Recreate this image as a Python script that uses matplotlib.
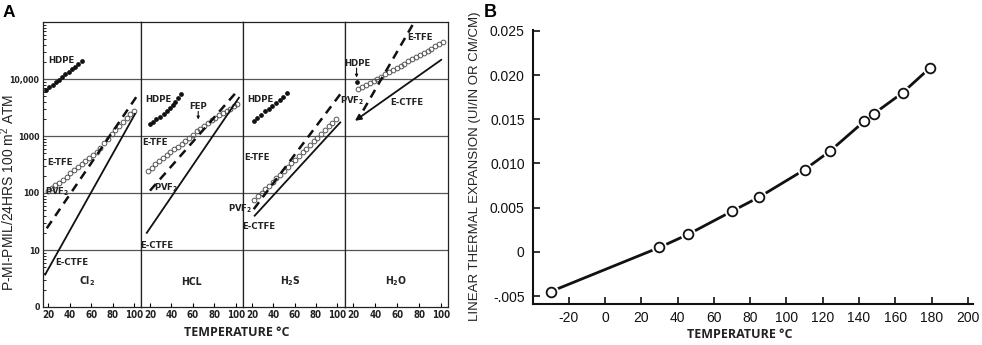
import os
import matplotlib
matplotlib.use("Agg")
import matplotlib.pyplot as plt
from matplotlib import font_manager
from matplotlib.font_manager import FontProperties
from matplotlib.ticker import LogLocator, NullFormatter, FixedLocator

# ---------------- data : panel A (permeability, log scale) ----------------
gas_names = ["Cl$_2$", "HCL", "H$_2$S", "H$_2$O"]
a_xticks = [20, 40, 60, 80, 100]
a_yticks = [1, 10, 100, 1000, 10000]
a_yticklabels = ["0", "10", "100", "1000", "10,000"]

cl2_hdpe_x = [18, 21, 24, 27, 30, 33, 36, 39, 42, 45, 48, 51]
cl2_hdpe_y = [6500, 7200, 8000, 8900, 9800, 10800, 12000, 13300, 14800, 16500, 18500, 20500]
cl2_etfe_x = [19.5, 23, 26.5, 30, 33.5, 37, 40.5, 44, 47.5, 51, 54.5, 58, 61.5, 65,
              68.5, 72, 75.5, 79, 82.5, 86, 89.5, 93, 96.5, 99.5]
cl2_etfe_y = [110, 122, 138, 152, 170, 190, 228, 255, 285, 320, 360, 405, 460, 530,
              620, 740, 900, 1080, 1280, 1500, 1750, 2050, 2450, 2750]
cl2_pvf2_x = [18.5, 102]
cl2_pvf2_y = [24, 4800]
cl2_ectfe_x = [17, 101]
cl2_ectfe_y = [3.7, 2450]

hcl_hdpe_x = [20, 23, 26, 29.5, 33, 36, 38.5, 41, 43.5, 46, 48.5]
hcl_hdpe_y = [1650, 1750, 1950, 2150, 2400, 2750, 3100, 3500, 4000, 4700, 5500]
hcl_etfe_x = [18, 21.5, 25, 28.5, 32, 35.5, 39, 42.5, 46, 49.5, 53, 56.5, 60, 63.5,
              67, 70.5, 74, 77.5, 81, 84.5, 88, 91.5, 95, 98.5, 101.5]
hcl_etfe_y = [245, 280, 320, 365, 415, 465, 520, 580, 650, 730, 820, 930, 1060, 1200,
              1350, 1520, 1700, 1900, 2100, 2300, 2500, 2750, 3000, 3300, 3600]
hcl_pvf2_x = [20, 102]
hcl_pvf2_y = [110, 6300]
hcl_ectfe_x = [17, 103]
hcl_ectfe_y = [20, 4700]

h2s_hdpe_x = [21.6, 25, 28.5, 32, 35.5, 39, 42.5, 46, 49.5, 53]
h2s_hdpe_y = [1850, 2100, 2380, 2700, 3000, 3350, 3750, 4200, 4900, 5700]
h2s_etfe_x = [22, 25.5, 29, 32.5, 36, 39.5, 43, 46.5, 50, 53.5, 57, 60.5, 64, 67.5,
              71, 74.5, 78, 81.5, 85, 88.5, 92, 95.5, 99]
h2s_etfe_y = [75, 87, 100, 116, 135, 156, 180, 210, 245, 285, 330, 385, 445, 515,
              600, 700, 810, 940, 1090, 1270, 1470, 1700, 1980]
h2s_pvf2_x = [21.6, 103]
h2s_pvf2_y = [52, 5400]
h2s_ectfe_x = [22.5, 103]
h2s_ectfe_y = [40, 1730]

h2o_hdpe_x = [23]
h2o_hdpe_y = [8900]
h2o_etfe_x = [24.5, 28, 31.5, 35, 38.5, 42, 45.5, 49, 52.5, 56, 59.5, 63, 66.5, 70,
              73.5, 77, 80.5, 84, 87.5, 91, 94.5, 98, 101.5]
h2o_etfe_y = [6550, 7150, 7800, 8500, 9300, 10100, 11000, 12000, 13100, 14300, 15600,
              17000, 18600, 20300, 22100, 24100, 26300, 28700, 31300, 34200, 37300,
              40700, 44400]
h2o_pvf2_x = [29, 74.3]
h2o_pvf2_y = [2800, 92000]
h2o_ectfe_x = [100, 21.5]      # drawn as an arrow from first to second point
h2o_ectfe_y = [21800, 1850]

# ---------------- data : panel B (linear thermal expansion) ----------------
b_temp = [-30, 30, 46, 70, 85, 110, 124, 143, 148, 164, 179]
b_expansion = [-0.0045, 0.0005, 0.0020, 0.0046, 0.0062, 0.0093, 0.0114, 0.0148,
               0.0156, 0.0180, 0.0208]
b_xticks = [-20, 0, 20, 40, 60, 80, 100, 120, 140, 160, 180, 200]
b_yticks = [-0.005, 0, 0.005, 0.010, 0.015, 0.020, 0.025]
b_yticklabels = ["-.005", "0", "0.005", "0.010", "0.015", "0.020", "0.025"]

# ---------------- fonts ----------------
plt.rcParams["font.family"] = ["Liberation Sans", "DejaVu Sans"]
plt.rcParams["mathtext.default"] = "regular"

_bad = ("italic", "oblique", "semi", "extra", "light", "thin", "medium", "black", "demi")


def find_narrow(bold):
    keys = ["liberationsansnarrow", "dejavusanscondensed", "robotocondensed",
            "notosanscondensed", "opensanscondensed", "latocondensed"]
    for key in keys:
        for f in font_manager.fontManager.ttflist:
            base = os.path.basename(f.fname).lower().replace("-", "").replace("_", "")
            if key in base and not any(b in base for b in _bad):
                if ("bold" in base) == bold:
                    return f.fname
    return None


def narrow_fp(size, bold=True):
    path = find_narrow(bold)
    if path:
        return FontProperties(fname=path, size=size)
    return FontProperties(family="Liberation Sans", weight="bold" if bold else "normal",
                          size=size)


W, H = 982, 345
fig = plt.figure(figsize=(W / 100, H / 100), dpi=100)


def fx(px):
    return px / W


def fy(py):
    return 1 - py / H


# ---------------- panel A ----------------
edges = [43, 141, 243, 345, 448]
xlims = [(15, 106.5), (11.6, 106.8), (11.5, 107.5), (12.5, 106)]
top_px, bot_px = 22, 307
series = [
    (cl2_hdpe_x, cl2_hdpe_y, cl2_etfe_x, cl2_etfe_y, cl2_pvf2_x, cl2_pvf2_y, cl2_ectfe_x, cl2_ectfe_y),
    (hcl_hdpe_x, hcl_hdpe_y, hcl_etfe_x, hcl_etfe_y, hcl_pvf2_x, hcl_pvf2_y, hcl_ectfe_x, hcl_ectfe_y),
    (h2s_hdpe_x, h2s_hdpe_y, h2s_etfe_x, h2s_etfe_y, h2s_pvf2_x, h2s_pvf2_y, h2s_ectfe_x, h2s_ectfe_y),
    (h2o_hdpe_x, h2o_hdpe_y, h2o_etfe_x, h2o_etfe_y, h2o_pvf2_x, h2o_pvf2_y, h2o_ectfe_x, h2o_ectfe_y),
]
lab_fp = narrow_fp(6.8)
gas_fp = narrow_fp(7.5)
xt_fp = narrow_fp(7.0)
yt_fp = narrow_fp(6.3)
ink = "#222222"
lab_kw = dict(fontproperties=lab_fp, color=ink, ha="center", va="center")
# label positions (x, y) for HDPE, E-TFE, PVF2, E-CTFE, gas
label_pos = [
    [(32.5, 21000), (31, 345), (28.4, 105), (42, 6.0), (56, 2.8)],
    [(27.7, 4300), (24.7, 760), (35.6, 122), (26.8, 12), (58.9, 2.8)],
    [(28, 4300), (24.7, 420), (9, 52), (26.3, 26), (56, 2.9)],
    [(23.6, 18600), (81, 53000), (18.6, 4200), (68.3, 3900), (58.6, 2.9)],
]

for i in range(4):
    l, r = edges[i], edges[i + 1]
    ax = fig.add_axes([fx(l), fy(bot_px), (r - l) / W, (bot_px - top_px) / H])
    ax.set_yscale("log")
    ax.set_ylim(1, 1e5)
    ax.set_xlim(*xlims[i])
    for g in [10, 100, 1000, 10000]:
        ax.axhline(g, color="#555555", lw=0.9, zorder=0)
    for s in ax.spines.values():
        s.set_linewidth(0.9)
        s.set_color(ink)
    ax.set_xticks(a_xticks)
    ax.set_xticklabels([str(t) for t in a_xticks], fontproperties=xt_fp, color=ink)
    ax.tick_params(axis="x", direction="in", length=3, width=0.8, pad=2)
    if i == 0:
        ax.yaxis.set_major_locator(FixedLocator(a_yticks))
        ax.set_yticklabels(a_yticklabels, fontproperties=yt_fp, color=ink)
        ax.yaxis.set_minor_locator(LogLocator(base=10, subs=range(2, 10)))
        ax.yaxis.set_minor_formatter(NullFormatter())
        ax.tick_params(axis="y", which="major", length=0, pad=2.5)
        ax.tick_params(axis="y", which="minor", direction="in", length=2, width=0.6)
    else:
        ax.tick_params(axis="y", which="both", left=False, labelleft=False)

    hx, hy, ex, ey, px_, py_, cx, cy = series[i]
    ax.plot(hx, hy, "o", ms=2.4, color="#111111", zorder=3)
    ax.plot(ex, ey, "o", ms=3.4, mfc="none", mec="#555555", mew=0.7, zorder=3)
    ax.plot(px_, py_, color="#111111", lw=1.8, dashes=(3.5, 2.5), zorder=3)
    if i < 3:
        ax.plot(cx, cy, color="#111111", lw=1.3, zorder=3)
    else:
        ax.annotate("", xy=(cx[1], cy[1]), xytext=(cx[0], cy[0]),
                    arrowprops=dict(arrowstyle="-|>", lw=1.3, color="#111111",
                                    mutation_scale=9, shrinkA=0, shrinkB=0))
        ax.annotate("", xy=(hx[0], 10600), xytext=(hx[0], 15500),
                    arrowprops=dict(arrowstyle="-|>", lw=0.8, color="#111111",
                                    mutation_scale=4, shrinkA=0, shrinkB=0))

    lp = label_pos[i]
    ax.text(*lp[0], "HDPE", **lab_kw)
    ax.text(*lp[1], "E-TFE", **lab_kw)
    ax.text(*lp[2], "PVF$_2$", **lab_kw)
    ax.text(*lp[3], "E-CTFE", **lab_kw)
    ax.text(*lp[4], gas_names[i], fontproperties=gas_fp, color=ink,
            ha="center", va="center")
    if i == 1:
        ax.text(65, 3300, "FEP", **lab_kw)
        ax.annotate("", xy=(65, 1950), xytext=(65, 2700),
                    arrowprops=dict(arrowstyle="-|>", lw=0.8, color="#111111",
                                    mutation_scale=4, shrinkA=0, shrinkB=0))

fig.text(fx(8), fy(192), "P-MI-PMIL/24HRS 100 m$^2$ ATM", rotation=90,
         ha="center", va="center", fontsize=10, color=ink)
fig.text(fx(237), fy(332), "TEMPERATURE \u00b0C", ha="center", va="center",
         fontsize=9, family="Open Sans", fontweight="bold", color=ink)
fig.text(fx(3), fy(5), "A", ha="left", va="top", fontsize=12.5, fontweight="bold")

# ---------------- panel B ----------------
axb = fig.add_axes([fx(533), fy(304), (973 - 533) / W, (304 - 30) / H])
axb.set_xlim(-39.7, 202.8)
axb.set_ylim(-0.0059, 0.0251)
axb.spines["top"].set_visible(False)
axb.spines["right"].set_visible(False)
for s in ["left", "bottom"]:
    axb.spines[s].set_linewidth(1.5)
    axb.spines[s].set_color("#111111")
axb.plot(b_temp, b_expansion, color="#111111", lw=2.0, zorder=2)
axb.plot(b_temp, b_expansion, "o", ms=10, color="white", mec="white", zorder=3)
axb.plot(b_temp, b_expansion, "o", ms=7, mfc="white", mec="#111111", mew=1.3, zorder=4)
axb.set_xticks(b_xticks)
axb.set_xticklabels([str(t) for t in b_xticks])
axb.set_yticks(b_yticks)
axb.set_yticklabels(b_yticklabels)
axb.tick_params(axis="both", direction="in", length=5, width=1.2, labelsize=10,
                colors="#111111")
axb.tick_params(axis="x", pad=5)
axb.tick_params(axis="y", pad=6)
fig.text(fx(475), fy(166), "LINEAR THERMAL EXPANSION (UI/IN OR CM/CM)", rotation=90,
         ha="center", va="center", fontsize=9.5, color=ink)
fig.text(fx(740), fy(334), "TEMPERATURE \u00b0C", ha="center", va="center",
         fontsize=9, family="Open Sans", fontweight="bold", color=ink)
fig.text(fx(484), fy(4), "B", ha="left", va="top", fontsize=13, fontweight="bold")

fig.savefig("out.png", dpi=100)
